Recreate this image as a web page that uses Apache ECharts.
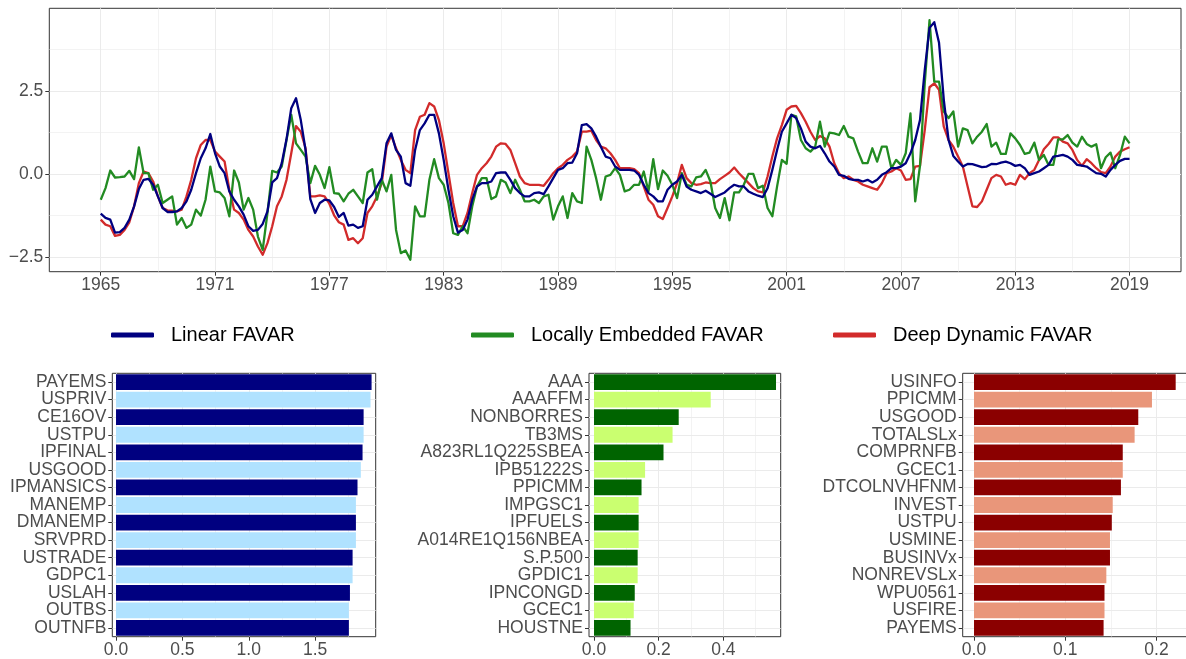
<!DOCTYPE html>
<html>
<head>
<meta charset="utf-8">
<title>FAVAR factors and variable importance</title>
<script src="https://cdn.jsdelivr.net/npm/echarts@6/dist/echarts.min.js"></script>
<style>
  html, body { margin: 0; padding: 0; background: #ffffff; }
  #chart { width: 1186px; height: 659px; }
</style>
</head>
<body>
<div id="chart"></div>
<script>
// ---- Factor series, quarterly from 1965Q1 to 2019Q1 ----
const firstYear = 1965;

const linearFavar = [
  -1.20, -1.33, -1.38, -1.77, -1.76, -1.63, -1.38, -0.98, -0.46, -0.18,
  -0.15, -0.33, -0.68, -1.03, -1.15, -1.15, -1.13, -1.03, -0.83, -0.48,
   0.02,  0.47,  0.77,  1.20,  0.62,  0.22,  0.02, -0.53, -0.78, -0.98,
  -1.23, -1.58, -1.72, -1.69, -1.51, -1.13, -0.26, -0.13,  0.32,  1.04,
   1.98,  2.28,  1.62,  0.72, -0.76, -1.18, -0.88, -0.78, -0.80, -1.00,
  -1.30, -1.18, -1.56, -1.53, -1.63, -1.58, -0.78, -0.63, -0.38, -0.13,
   0.92,  1.22,  0.72,  0.52, -0.28, -0.36,  0.72,  1.32,  1.52,  1.78,
   1.78,  1.22,  0.42, -0.48, -1.28, -1.77, -1.69, -1.38, -0.78, -0.38,
  -0.28, -0.28, -0.23,  0.02,  0.04,  0.04, -0.18, -0.43, -0.58, -0.68,
  -0.68, -0.58, -0.56, -0.61, -0.38, -0.13,  0.12,  0.17,  0.32,  0.34,
   0.62,  1.47,  1.50,  1.37,  1.12,  0.82,  0.52,  0.47,  0.22,  0.12,
   0.12,  0.12,  0.10, -0.03, -0.33, -0.58, -0.68, -0.83, -0.83, -0.48,
  -0.33, -0.23, -0.03, -0.38, -0.48, -0.53, -0.58, -0.51, -0.60, -0.70,
  -0.63, -0.56, -0.43, -0.33, -0.38, -0.38, -0.53, -0.60, -0.66, -0.70,
  -0.43,  0.12,  0.72,  1.27,  1.52,  1.78,  1.68,  1.37,  0.97,  0.82,
   0.77,  0.84,  0.62,  0.37,  0.22, -0.03, -0.06, -0.15, -0.18, -0.18,
  -0.23, -0.18, -0.26, -0.18, -0.03,  0.05,  0.17,  0.17,  0.22,  0.32,
   0.62,  1.02,  1.62,  3.13,  4.40,  4.57,  3.95,  2.23,  1.02,  0.54,
   0.37,  0.22,  0.30,  0.29,  0.25,  0.20,  0.22,  0.30,  0.29,  0.34,
   0.37,  0.32,  0.24,  0.27,  0.17, -0.03,  0.02,  0.07,  0.17,  0.27,
   0.52,  0.54,  0.57,  0.52,  0.42,  0.27,  0.25,  0.22,  0.12,  0.02,
   0.00, -0.08,  0.12,  0.27,  0.39,  0.45,  0.45
];

const locallyEmbedded = [
  -0.78, -0.43,  0.10, -0.11, -0.10, -0.08,  0.09, -0.16,  0.80,  0.02,
   0.02, -0.48, -0.33, -0.88, -0.78, -0.68, -1.53, -1.33, -1.63, -1.53,
  -1.08, -1.26, -0.78,  0.22, -0.53, -0.56, -0.73, -1.28,  0.10, -0.26,
  -1.08, -0.73, -1.08, -1.89, -2.29, -1.18,  0.09,  0.04,  0.22,  1.02,
   1.78,  0.92,  0.72,  0.52, -0.28,  0.24, -0.03, -0.43,  0.20, -0.58,
  -0.60, -0.83, -0.60, -0.48, -0.68, -0.88,  0.04,  0.14, -0.78, -0.18,
  -0.53, -0.03, -1.69, -2.39, -2.31, -2.59, -0.98, -1.28, -1.28, -0.18,
   0.44, -0.13, -0.33, -0.88, -1.79, -1.84, -1.58, -1.79, -0.98, -0.38,
  -0.13, -0.13, -0.76, -0.68, -0.18, -0.26, -0.58, -0.18, -0.48, -0.83,
  -0.83, -0.78, -0.88, -0.68, -0.63, -1.38, -0.98, -0.68, -1.33, -0.58,
  -0.83, -0.88,  0.82,  0.42, -0.13, -0.78, -0.08, -0.03,  0.17, -0.03,
  -0.53, -0.48, -0.33, -0.33,  0.07, -0.53,  0.44, -0.46,  0.10, -0.06,
  -0.33, -0.73,  0.02, -0.33, -0.38, -0.11, -0.08,  0.12, -0.23, -1.03,
  -1.33, -0.73, -1.40, -0.56, -0.56, -0.33,  0.00,  0.00, -0.43, -0.36,
  -1.03, -1.28, -0.38,  0.42,  0.30,  1.78,  1.73,  1.02,  0.77,  0.67,
   0.82,  1.57,  0.82,  1.24,  1.22,  1.17,  1.44,  1.12,  1.07,  0.67,
   0.32,  0.32,  0.77,  0.37,  0.82,  0.82,  0.17,  0.42,  0.27,  0.62,
   1.82, -0.83,  0.24,  2.73,  4.63,  2.78,  2.78,  1.88,  1.68,  1.88,
   0.82,  1.37,  1.32,  0.92,  1.12,  1.27,  1.50,  0.82,  0.94,  0.60,
   0.60,  1.22,  1.07,  0.87,  0.60,  0.64,  0.94,  0.42,  0.57,  0.27,
   0.27,  1.04,  1.04,  1.17,  0.94,  0.82,  1.12,  0.90,  0.82,  0.89,
   0.17,  0.50,  0.64,  0.17,  0.57,  1.12,  0.92
];

const deepDynamic = [
  -1.38, -1.53, -1.58, -1.87, -1.84, -1.69, -1.46, -0.98, -0.28,  0.07,
   0.02, -0.23, -0.68, -1.03, -1.10, -1.11, -1.13, -1.08, -0.68, -0.18,
   0.47,  0.87,  1.02,  1.02,  0.67,  0.52,  0.37, -0.48, -1.08, -1.18,
  -1.38, -1.69, -1.89, -2.19, -2.44, -2.09, -1.58, -0.98, -0.68, -0.18,
   0.62,  1.44,  1.27,  0.77, -0.68, -0.68, -0.65, -0.68, -0.90, -1.25,
  -1.46, -1.53, -1.99, -1.94, -2.09, -1.94, -1.18, -0.98, -0.68, -0.28,
   0.82,  1.17,  0.77,  0.42,  0.12,  0.02,  1.32,  1.72,  1.78,  2.13,
   2.03,  1.62,  0.92,  0.02, -0.88, -1.58, -1.58, -1.18, -0.58, -0.03,
   0.17,  0.32,  0.52,  0.82,  0.92,  0.90,  0.72,  0.32, -0.08, -0.28,
  -0.33, -0.33, -0.33, -0.36, -0.18,  0.02,  0.17,  0.27,  0.42,  0.52,
   0.67,  1.27,  1.27,  1.30,  1.02,  0.82,  0.77,  0.62,  0.42,  0.17,
   0.17,  0.17,  0.14,  0.02, -0.38, -0.78, -0.93, -1.28, -1.36, -1.03,
  -0.68, -0.28,  0.27, -0.13, -0.28, -0.33, -0.31, -0.26, -0.28, -0.28,
  -0.16, -0.06,  0.04,  0.19,  0.02, -0.13, -0.28, -0.43, -0.53, -0.56,
  -0.08,  0.52,  1.07,  1.47,  1.93,  2.03,  2.05,  1.83,  1.57,  1.27,
   1.02,  1.14,  1.07,  0.82,  0.32,  0.02, -0.13, -0.08, -0.18, -0.23,
  -0.33, -0.38, -0.43, -0.48, -0.28,  0.02,  0.07,  0.17,  0.10, -0.18,
  -0.16,  0.22,  0.24,  1.32,  2.61,  2.73,  2.53,  1.42,  1.02,  0.82,
   0.52,  0.22, -0.38, -0.98, -1.00, -0.83, -0.48, -0.13, -0.03, -0.08,
  -0.33, -0.28, -0.33, -0.03, -0.16,  0.02,  0.12,  0.42,  0.74,  0.90,
   1.10,  1.10,  0.97,  0.92,  0.72,  0.42,  0.24,  0.44,  0.32,  0.17,
   0.05,  0.02,  0.22,  0.52,  0.67,  0.74,  0.80
];

const yearTicks = [1965, 1971, 1977, 1983, 1989, 1995, 2001, 2007, 2013, 2019];
const yearMinorTicks = [1968, 1974, 1980, 1986, 1992, 1998, 2004, 2010, 2016];
const factorTicks = [-2.5, 0, 2.5];
const factorMinorTicks = [-1.25, 1.25, 3.75];

// ---- Variable importance per model ----
const linearVars = ['PAYEMS', 'USPRIV', 'CE16OV', 'USTPU', 'IPFINAL', 'USGOOD', 'IPMANSICS',
  'MANEMP', 'DMANEMP', 'SRVPRD', 'USTRADE', 'GDPC1', 'USLAH', 'OUTBS', 'OUTNFB'];
const linearImp = [1.925, 1.917, 1.865, 1.865, 1.857, 1.844, 1.819, 1.807, 1.807, 1.807,
  1.782, 1.782, 1.762, 1.754, 1.754];
const linearTicks = [0, 0.5, 1.0, 1.5];
const linearMinorTicks = [0.25, 0.75, 1.25, 1.75];

const localVars = ['AAA', 'AAAFFM', 'NONBORRES', 'TB3MS', 'A823RL1Q225SBEA', 'IPB51222S', 'PPICMM',
  'IMPGSC1', 'IPFUELS', 'A014RE1Q156NBEA', 'S.P.500', 'GPDIC1', 'IPNCONGD', 'GCEC1', 'HOUSTNE'];
const localImp = [0.563, 0.361, 0.262, 0.243, 0.215, 0.158, 0.147, 0.138, 0.138, 0.138,
  0.135, 0.135, 0.126, 0.123, 0.113];
const localTicks = [0, 0.2, 0.4];
const localMinorTicks = [0.1, 0.3, 0.5];

const deepVars = ['USINFO', 'PPICMM', 'USGOOD', 'TOTALSLx', 'COMPRNFB', 'GCEC1', 'DTCOLNVHFNM',
  'INVEST', 'USTPU', 'USMINE', 'BUSINVx', 'NONREVSLx', 'WPU0561', 'USFIRE', 'PAYEMS'];
const deepImp = [0.221, 0.195, 0.180, 0.176, 0.163, 0.163, 0.161, 0.152, 0.151, 0.149,
  0.149, 0.145, 0.143, 0.143, 0.142];
const deepTicks = [0, 0.1, 0.2];
const deepMinorTicks = [0.05, 0.15];

// ---- Styling ----
const FONT = '"Liberation Sans", Arial, Helvetica, sans-serif';
const AXIS_TEXT = '#4D4D4D';
const FRAME = '#333333';
const GRID_MAJOR = '#EBEBEB';
const COLORS = {
  linear: '#000080',
  local: '#228B22',
  deep: '#D22B2B'
};
const BAR_COLORS = {
  linear: ['#000080', '#B0E2FF'],
  local: ['#006400', '#CAFF70'],
  deep: ['#8B0000', '#E9967A']
};

const minusFmt = v => (v < 0 ? '\u2212' : '') + Math.abs(v).toFixed(1);
const quarterPoints = arr => arr.map((v, k) => [firstYear + k / 4, v]);

const chart = echarts.init(document.getElementById('chart'), null, { renderer: 'canvas' });

const grids = [];
const xAxes = [];
const yAxes = [];
const series = [];

function frameGrid(left, top, width, height) {
  grids.push({
    left: left, top: top, width: width, height: height,
    show: true, borderColor: FRAME, borderWidth: 1, backgroundColor: 'transparent',
    containLabel: false, outerBoundsMode: 'none'
  });
  return grids.length - 1;
}

function majorAxis(gridIndex, min, max, ticks, fmt, extra) {
  return Object.assign({
    gridIndex: gridIndex, type: 'value', min: min, max: max,
    axisLine: { show: false, onZero: false },
    axisTick: { show: true, customValues: ticks, length: 4, lineStyle: { color: FRAME, width: 1 } },
    axisLabel: { show: true, customValues: ticks, formatter: fmt, color: AXIS_TEXT,
      fontSize: 17.5, fontFamily: FONT },
    splitLine: { show: true, lineStyle: { color: GRID_MAJOR, width: 1 } },
    minorTick: { show: false }, minorSplitLine: { show: false }
  }, extra || {});
}

function minorAxis(gridIndex, min, max, ticks, extra) {
  return Object.assign({
    gridIndex: gridIndex, type: 'value', min: min, max: max,
    axisLine: { show: false, onZero: false },
    axisTick: { show: false, customValues: ticks },
    axisLabel: { show: false, customValues: ticks },
    splitLine: { show: true, lineStyle: { color: GRID_MAJOR, width: 0.6 } }
  }, extra || {});
}

// ---- Top panel: factor time series ----
const g0 = frameGrid(49.3, 8.3, 1131.7, 263.4);
xAxes.push(majorAxis(g0, 1962.3, 2021.7, yearTicks, v => String(Math.round(v)),
  { position: 'bottom', axisLabel: { show: true, customValues: yearTicks, formatter: v => String(Math.round(v)),
    color: AXIS_TEXT, fontSize: 17.5, fontFamily: FONT, margin: 4 } }));
xAxes.push(minorAxis(g0, 1962.3, 2021.7, yearMinorTicks, { position: 'top' }));
yAxes.push(majorAxis(g0, -2.95, 4.99, factorTicks, minusFmt,
  { position: 'left', axisLabel: { show: true, customValues: factorTicks, formatter: minusFmt,
    color: AXIS_TEXT, fontSize: 17.5, fontFamily: FONT, margin: 6 } }));
yAxes.push(minorAxis(g0, -2.95, 4.99, factorMinorTicks, { position: 'right' }));

const lineSeries = [
  { name: 'Deep Dynamic FAVAR', data: deepDynamic, color: COLORS.deep, z: 2 },
  { name: 'Locally Embedded FAVAR', data: locallyEmbedded, color: COLORS.local, z: 3 },
  { name: 'Linear FAVAR', data: linearFavar, color: COLORS.linear, z: 4 }
];
lineSeries.forEach(s => {
  series.push({
    name: s.name, type: 'line', xAxisIndex: 0, yAxisIndex: 0,
    data: quarterPoints(s.data), showSymbol: false, symbol: 'none', z: s.z,
    lineStyle: { color: s.color, width: 2.3, join: 'round' },
    itemStyle: { color: s.color }, silent: true
  });
});

// ---- Bottom panels: variable importance bars ----
function barPanel(left, width, names, values, ticks, minorTicks, min, max, palette) {
  const gi = frameGrid(left, 373.3, width, 263.4);
  const xi = xAxes.length;
  xAxes.push(majorAxis(gi, min, max, ticks, v => v.toFixed(1),
    { position: 'bottom', axisLabel: { show: true, customValues: ticks, formatter: v => v.toFixed(1),
      color: AXIS_TEXT, fontSize: 17.5, fontFamily: FONT, margin: 4 } }));
  xAxes.push(minorAxis(gi, min, max, minorTicks, { position: 'top' }));
  const yi = yAxes.length;
  yAxes.push({
    gridIndex: gi, type: 'category', data: names, inverse: true, position: 'left',
    axisLine: { show: false, onZero: false },
    axisTick: { show: true, alignWithLabel: true, length: 4, lineStyle: { color: FRAME, width: 1 } },
    axisLabel: { color: AXIS_TEXT, fontSize: 17.5, fontFamily: FONT, margin: 6, interval: 0 },
    splitLine: { show: false }
  });
  // horizontal guide lines through each category centre
  const centres = names.map((n, k) => k);
  yAxes.push(minorAxis(gi, -0.5, names.length - 0.5, centres,
    { position: 'right', inverse: true, splitLine: { show: true, lineStyle: { color: GRID_MAJOR, width: 1 } } }));
  series.push({
    type: 'bar', xAxisIndex: xi, yAxisIndex: yi, barCategoryGap: '10%', silent: true,
    data: values.map((v, k) => ({ value: v, itemStyle: { color: palette[k % 2] } }))
  });
}

barPanel(112.3, 263.4, linearVars, linearImp, linearTicks, linearMinorTicks, -0.028, 1.956, BAR_COLORS.linear);
barPanel(589.0, 191.7, localVars, localImp, localTicks, localMinorTicks, -0.0155, 0.5775, BAR_COLORS.local);
barPanel(962.7, 224.3, deepVars, deepImp, deepTicks, deepMinorTicks, -0.0124, 0.2334, BAR_COLORS.deep);

// ---- Legend row ----
function legendItem(name, left) {
  return {
    data: [name], left: left, top: 325, padding: 0, orient: 'horizontal', selectedMode: false,
    icon: 'roundRect', itemWidth: 43, itemHeight: 5,
    textStyle: { color: '#000000', fontSize: 20, fontFamily: FONT, padding: [0, 0, 0, 12] }
  };
}

chart.setOption({
  animation: false,
  textStyle: { fontFamily: FONT },
  legend: [
    legendItem('Linear FAVAR', 111),
    legendItem('Locally Embedded FAVAR', 471),
    legendItem('Deep Dynamic FAVAR', 833)
  ],
  grid: grids,
  xAxis: xAxes,
  yAxis: yAxes,
  series: series
});
</script>
</body>
</html>
